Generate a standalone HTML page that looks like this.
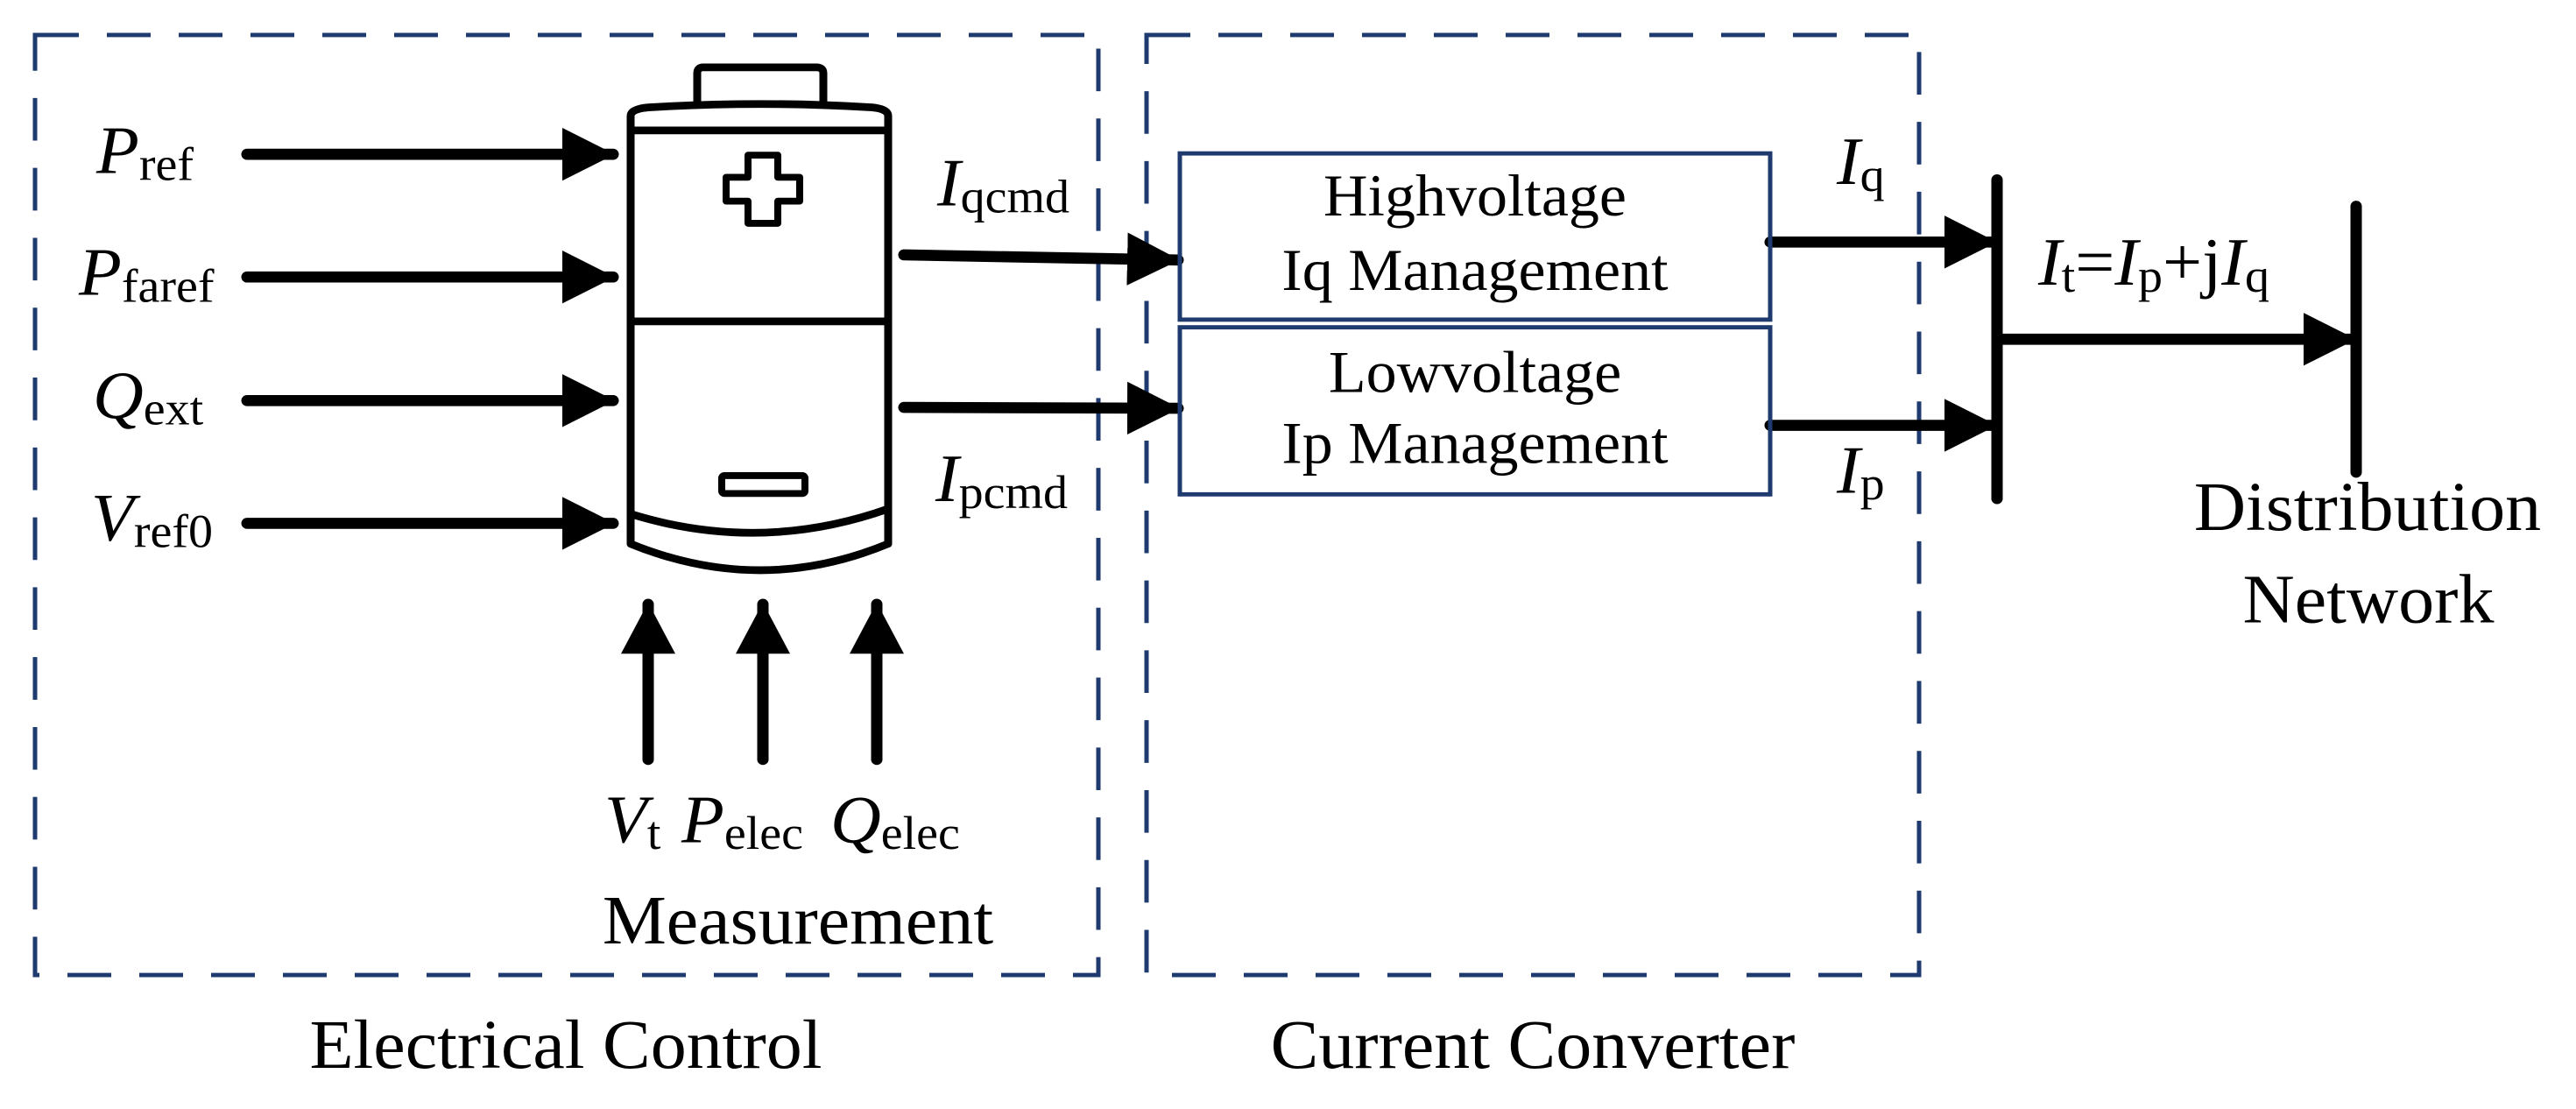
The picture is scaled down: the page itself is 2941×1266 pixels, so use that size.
<!DOCTYPE html>
<html><head><meta charset="utf-8"><style>
html,body{margin:0;padding:0;background:#fff;}
svg{display:block;}
text{font-family:"Liberation Serif",serif;fill:#000;}
</style></head><body>
<svg width="2941" height="1266" viewBox="0 0 2941 1266" xmlns="http://www.w3.org/2000/svg">
<defs>
<marker id="ah" markerUnits="userSpaceOnUse" markerWidth="60" markerHeight="62" refX="58" refY="31" orient="auto">
<path d="M0,0 L60,31 L0,62 Z" fill="#000"/></marker>
</defs>
<g transform="scale(1,0.973)">
<!-- dashed boxes -->
<rect x="40" y="41" width="1214" height="1103" fill="none" stroke="#1f3a6e" stroke-width="5" stroke-dasharray="50,32"/>
<rect x="1309" y="41" width="882" height="1103" fill="none" stroke="#1f3a6e" stroke-width="5" stroke-dasharray="50,32"/>

<!-- input arrows -->
<g stroke="#000" stroke-width="13" stroke-linecap="round" marker-end="url(#ah)">
<line x1="282" y1="181" x2="700" y2="181"/>
<line x1="282" y1="325" x2="700" y2="325"/>
<line x1="282" y1="470" x2="700" y2="470"/>
<line x1="282" y1="614" x2="700" y2="614"/>
<line x1="740" y1="891" x2="740" y2="709"/>
<line x1="871" y1="891" x2="871" y2="709"/>
<line x1="1001" y1="891" x2="1001" y2="709"/>
<line x1="1032" y1="299" x2="1345" y2="305"/>
<line x1="1032" y1="478" x2="1345" y2="479"/>
<line x1="2021" y1="284" x2="2278" y2="284"/>
<line x1="2021" y1="499" x2="2278" y2="499"/>
<line x1="2280" y1="398" x2="2688" y2="398"/>
</g>
<!-- bus bars -->
<g stroke="#000" stroke-width="13" stroke-linecap="round">
<line x1="2280" y1="211" x2="2280" y2="585"/>
<line x1="2690" y1="242" x2="2690" y2="554"/>
</g>

<!-- battery -->
<g fill="none" stroke="#000" stroke-width="9" stroke-linejoin="round">
<path d="M796,124 L796,86 Q796,79 803,79 L932,79 Q940,79 940,86 L940,124"/>
<path d="M720,638 L720,136 Q720,128 740,126 Q868,118 996,126 Q1014,128 1014,136 L1014,638 Q868,700 720,638 Z"/>
<line x1="720" y1="153" x2="1014" y2="153"/>
<line x1="720" y1="377" x2="1014" y2="377"/>
<path d="M720,603 Q868,650 1014,597"/>
<path d="M854,182 L888,182 L888,208 L913,208 L913,236 L888,236 L888,262 L854,262 L854,236 L829,236 L829,208 L854,208 Z" stroke-width="8"/>
<rect x="824" y="558" width="95" height="21" rx="3" stroke-width="8"/>
</g>

<!-- right boxes -->
<rect x="1347" y="180" width="674" height="195" fill="none" stroke="#1f3a6e" stroke-width="5"/>
<rect x="1347" y="384" width="674" height="196" fill="none" stroke="#1f3a6e" stroke-width="5"/>
<g font-size="70" text-anchor="middle">
<text x="1684" y="253">Highvoltage</text>
<text x="1684" y="340">Iq Management</text>
<text x="1684" y="460">Lowvoltage</text>
<text x="1684" y="543">Ip Management</text>
</g>

<!-- labels -->
<g font-size="80">
<text x="110" y="203"><tspan font-style="italic">P</tspan><tspan font-size="56" dy="8">ref</tspan></text>
<text x="90" y="346"><tspan font-style="italic">P</tspan><tspan font-size="56" dy="8">faref</tspan></text>
<text x="106" y="490"><tspan font-style="italic">Q</tspan><tspan font-size="56" dy="8">ext</tspan></text>
<text x="104" y="634"><tspan font-style="italic">V</tspan><tspan font-size="56" dy="8">ref0</tspan></text>
<text x="1070" y="241"><tspan font-style="italic">I</tspan><tspan font-size="56" dy="8">qcmd</tspan></text>
<text x="1068" y="588"><tspan font-style="italic">I</tspan><tspan font-size="56" dy="8">pcmd</tspan></text>
<text x="690" y="988"><tspan font-style="italic">V</tspan><tspan font-size="56" dy="8">t</tspan></text>
<text x="778" y="988"><tspan font-style="italic">P</tspan><tspan font-size="56" dy="8">elec</tspan></text>
<text x="948" y="988"><tspan font-style="italic">Q</tspan><tspan font-size="56" dy="8">elec</tspan></text>
<text x="2097" y="216"><tspan font-style="italic">I</tspan><tspan font-size="56" dy="8">q</tspan></text>
<text x="2097" y="578"><tspan font-style="italic">I</tspan><tspan font-size="56" dy="8">p</tspan></text>
<text x="2327" y="334"><tspan font-style="italic">I</tspan><tspan font-size="56" dy="8">t</tspan><tspan dy="-8">=</tspan><tspan font-style="italic">I</tspan><tspan font-size="56" dy="8">p</tspan><tspan dy="-8">+j</tspan><tspan font-style="italic">I</tspan><tspan font-size="56" dy="8">q</tspan></text>
</g>
<g font-size="82" text-anchor="middle">
<text x="911" y="1107">Measurement</text>
<text x="646" y="1253">Electrical Control</text>
<text x="1750" y="1253">Current Converter</text>
<text x="2703" y="622">Distribution</text>
<text x="2704" y="730">Network</text>
</g>
</g>
</svg>
</body></html>
